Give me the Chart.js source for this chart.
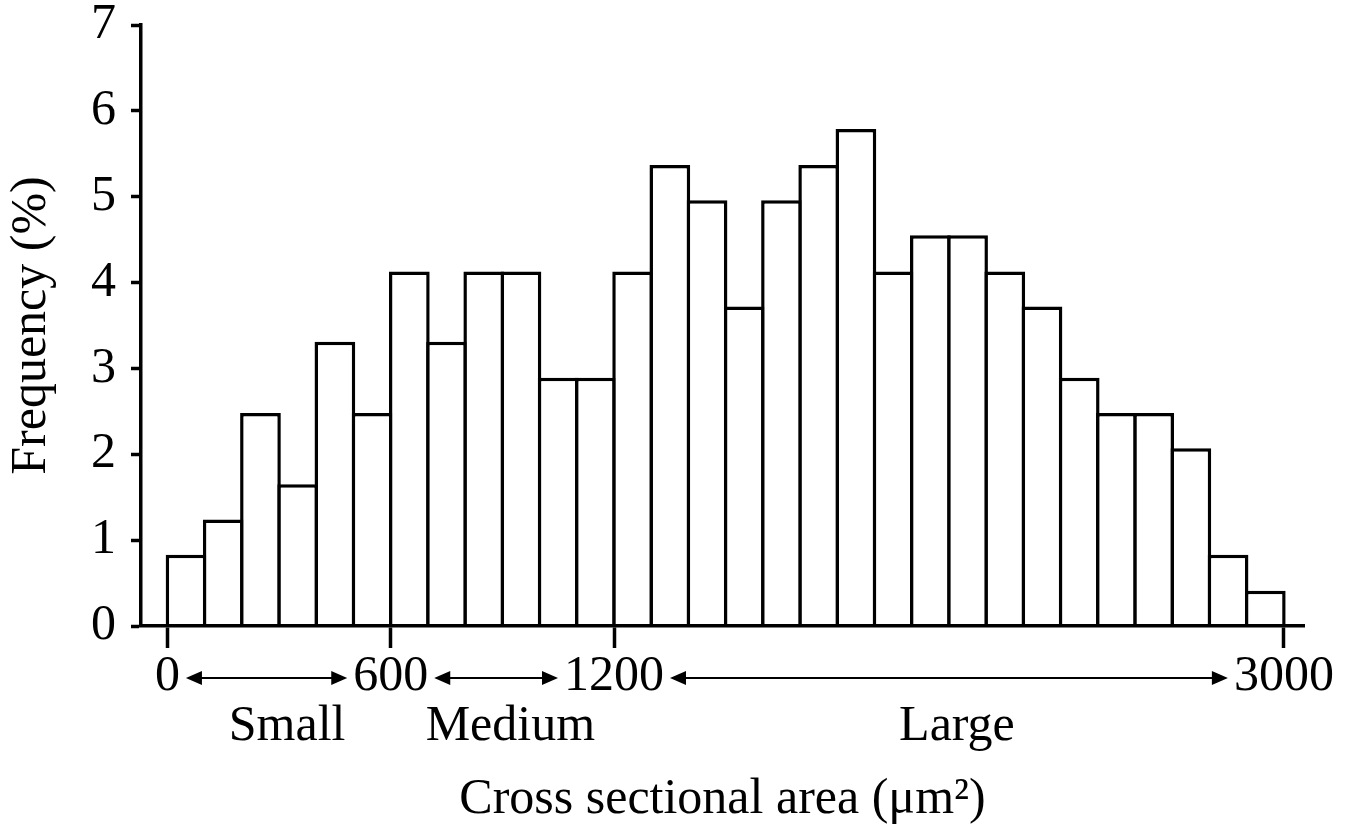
<!DOCTYPE html>
<html>
<head>
<meta charset="utf-8">
<script src="https://cdn.jsdelivr.net/npm/chart.js@4/dist/chart.umd.min.js"></script>
<style>
  html, body { margin: 0; padding: 0; background: #fff; }
  #wrap { width: 1352px; height: 829px; position: relative; }
</style>
</head>
<body>
<div id="wrap"><canvas id="chart"></canvas></div>
<script>
// Histogram bins (lower edge of each 100 µm² bin)
const binStarts = [0, 100, 200, 300, 400, 500, 600, 700, 800, 900,
  1000, 1100, 1200, 1300, 1400, 1500, 1600, 1700, 1800, 1900,
  2000, 2100, 2200, 2300, 2400, 2500, 2600, 2700, 2800, 2900];
const binWidth = 100;

// Frequency (%) per bin
const frequency = [0.83, 1.24, 2.48, 1.65, 3.31, 2.48, 4.13, 3.31, 4.13, 4.13,
  2.89, 2.89, 4.13, 5.37, 4.96, 3.72, 4.96, 5.37, 5.79, 4.13,
  4.55, 4.55, 4.13, 3.72, 2.89, 2.48, 2.48, 2.07, 0.83, 0.41];

// Size classes and the x ticks that bound them
const xTickValues = [0, 600, 1200, 3000];
const sizeClasses = ['Small', 'Medium', 'Large'];

const xTitle = 'Cross sectional area (μm²)';
const yTitle = 'Frequency (%)';

const FONT = '"Liberation Serif", "Times New Roman", serif';
const FONT_SIZE = 50;
const LINE = 3.5;

function drawArrow(ctx, x0, x1, y) {
  const head = 16, half = 7;
  ctx.lineWidth = 2;
  ctx.beginPath();
  ctx.moveTo(x0 + head - 2, y);
  ctx.lineTo(x1 - head + 2, y);
  ctx.stroke();
  ctx.beginPath();
  ctx.moveTo(x0, y);
  ctx.lineTo(x0 + head, y - half);
  ctx.lineTo(x0 + head, y + half);
  ctx.closePath();
  ctx.fill();
  ctx.beginPath();
  ctx.moveTo(x1, y);
  ctx.lineTo(x1 - head, y - half);
  ctx.lineTo(x1 - head, y + half);
  ctx.closePath();
  ctx.fill();
}

// draws the double arrows between tick labels and the size class names
const sizeClassPlugin = {
  id: 'sizeClasses',
  afterDraw(chart) {
    const x = chart.scales.x;
    const ctx = chart.ctx;
    ctx.save();
    ctx.font = FONT_SIZE + 'px ' + FONT;
    ctx.fillStyle = '#000';
    ctx.strokeStyle = '#000';
    const arrowY = x.top + 52;
    const gap = 6;
    sizeClasses.forEach((name, i) => {
      const a = xTickValues[i], b = xTickValues[i + 1];
      const pa = x.getPixelForValue(a), pb = x.getPixelForValue(b);
      const x0 = pa + ctx.measureText(String(a)).width / 2 + gap;
      const x1 = pb - ctx.measureText(String(b)).width / 2 - gap;
      drawArrow(ctx, x0, x1, arrowY);
      ctx.textAlign = 'center';
      ctx.textBaseline = 'alphabetic';
      ctx.fillText(name, (pa + pb) / 2 + 8, x.top + 114);
    });
    ctx.restore();
  }
};

const ctx = document.getElementById('chart').getContext('2d');

new Chart(ctx, {
  type: 'bar',
  data: {
    datasets: [{
      data: binStarts.map((s, i) => ({ x: s + binWidth / 2, y: frequency[i] })),
      backgroundColor: '#fff',
      borderColor: '#000',
      borderWidth: LINE,
      barPercentage: 1.094,
      categoryPercentage: 1
    }]
  },
  options: {
    responsive: true,
    maintainAspectRatio: false,
    devicePixelRatio: 1,
    animation: false,
    layout: { padding: { top: 25, right: 48, left: 0, bottom: 0 } },
    plugins: {
      legend: { display: false },
      tooltip: { enabled: false }
    },
    scales: {
      x: {
        type: 'linear',
        offset: false,
        min: -71,
        max: 3054,
        afterBuildTicks: (scale) => {
          scale.ticks = xTickValues.map(v => ({ value: v }));
        },
        afterFit: (scale) => { scale.height = 203; },
        grid: {
          offset: false,
          z: 1,
          drawOnChartArea: false,
          drawTicks: true,
          tickLength: 22,
          tickWidth: LINE,
          tickColor: '#000'
        },
        border: { display: true, color: '#000', width: LINE, z: 1 },
        ticks: {
          autoSkip: false,
          maxRotation: 0,
          padding: 4,
          color: '#000',
          font: { family: FONT, size: FONT_SIZE, lineHeight: 1 },
          callback: (v) => String(v)
        },
        title: {
          display: true,
          text: xTitle,
          color: '#000',
          font: { family: FONT, size: FONT_SIZE, lineHeight: 1 },
          padding: { top: 0, bottom: 4 }
        }
      },
      y: {
        min: 0,
        max: 7,
        afterFit: (scale) => {
          scale.width = 141;
          scale.paddingTop = 0;
          scale.paddingBottom = 0;
        },
        grid: {
          z: 1,
          drawOnChartArea: false,
          drawTicks: true,
          tickLength: 10,
          tickWidth: LINE,
          tickColor: '#000'
        },
        border: { display: true, color: '#000', width: LINE, z: 1 },
        ticks: {
          stepSize: 1,
          padding: 15,
          color: '#000',
          font: { family: FONT, size: FONT_SIZE, lineHeight: 1 }
        },
        title: {
          display: true,
          text: yTitle,
          color: '#000',
          font: { family: FONT, size: FONT_SIZE, lineHeight: 1 },
          padding: { top: 7, bottom: 0 }
        }
      }
    }
  },
  plugins: [sizeClassPlugin]
});
</script>
</body>
</html>
